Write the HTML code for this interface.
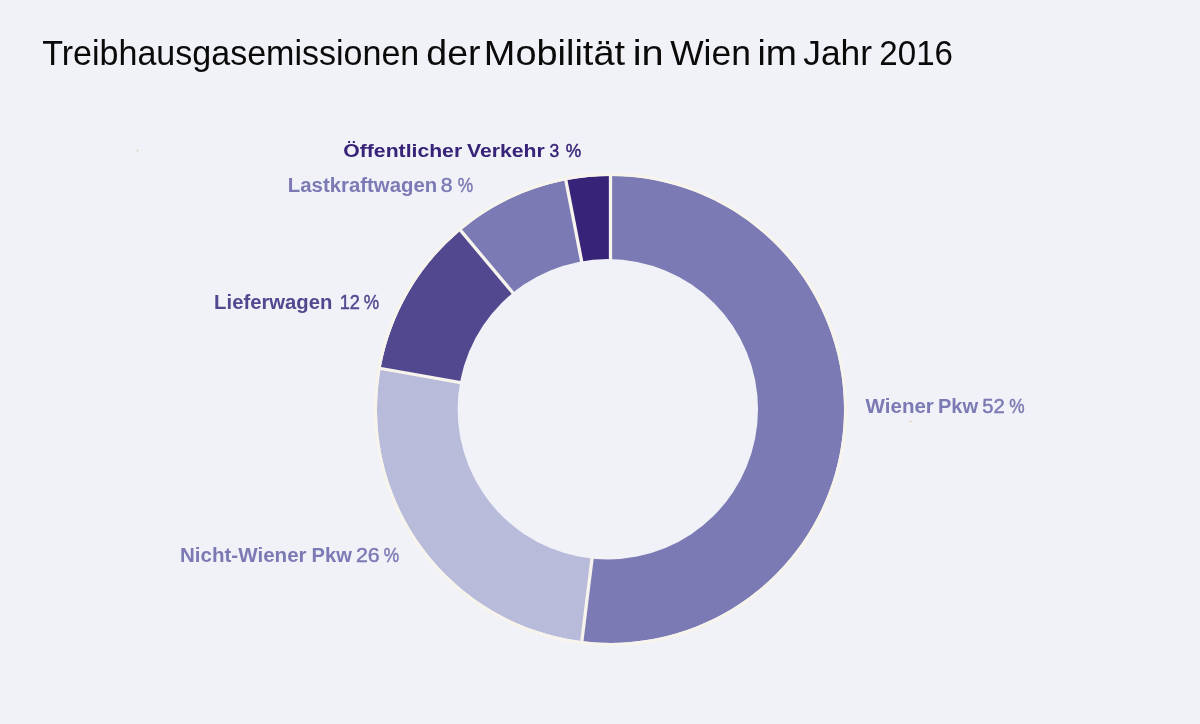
<!DOCTYPE html>
<html lang="de"><head><meta charset="utf-8"><title>Treibhausgasemissionen der Mobilität in Wien im Jahr 2016</title>
<style>
html,body{margin:0;padding:0;background:#f1f2f8;}
body{width:1200px;height:724px;overflow:hidden;}
svg{display:block}
text{font-family:"Liberation Sans", sans-serif;}
</style></head><body>
<svg width="1200" height="724" viewBox="0 0 1200 724" role="img" aria-label="Treibhausgasemissionen der Mobilität in Wien im Jahr 2016">
<rect width="1200" height="724" fill="#f1f2f8"/>
<path d="M610.50 175.90A233.5 233.5 0 1 1 581.84 641.13L592.80 552.51A144.2 144.2 0 1 0 610.50 265.20Z" fill="#7b7ab4"/>
<path d="M581.84 641.13A233.5 233.5 0 0 1 380.62 368.45L468.53 384.11A144.2 144.2 0 0 0 592.80 552.51Z" fill="#b9bbdb"/>
<path d="M380.62 368.45A233.5 233.5 0 0 1 460.57 230.40L517.91 298.86A144.2 144.2 0 0 0 468.53 384.11Z" fill="#514890"/>
<path d="M460.57 230.40A233.5 233.5 0 0 1 565.83 180.21L582.91 267.86A144.2 144.2 0 0 0 517.91 298.86Z" fill="#7b7ab4"/>
<path d="M565.83 180.21A233.5 233.5 0 0 1 610.50 175.90L610.50 265.20A144.2 144.2 0 0 0 582.91 267.86Z" fill="#372377"/>
<line x1="610.50" y1="264.20" x2="610.50" y2="173.30" stroke="#f6f4ec" stroke-width="3.3"/>
<line x1="592.68" y1="553.50" x2="581.52" y2="643.71" stroke="#f6f4ec" stroke-width="3.3"/>
<line x1="467.55" y1="383.94" x2="378.06" y2="368.00" stroke="#f6f4ec" stroke-width="3.3"/>
<line x1="517.26" y1="298.09" x2="458.90" y2="228.40" stroke="#f6f4ec" stroke-width="3.3"/>
<line x1="582.72" y1="266.88" x2="565.33" y2="177.66" stroke="#f6f4ec" stroke-width="3.3"/>
<circle cx="610.5" cy="409.4" r="235.05" fill="none" stroke="#f6f4ec" stroke-width="3.1"/>
<circle cx="607.8" cy="409.25" r="150.2" fill="#f1f2f8"/>

<circle cx="137.6" cy="150.6" r="1.2" fill="#d8d4c4" opacity="0.8"/>
<rect x="909.2" y="421" width="2.8" height="1" fill="#e8c890" opacity="0.7"/>
<text y="64.50" font-size="35" fill="#0a0a0a"><tspan x="42.24" textLength="377.07" lengthAdjust="spacingAndGlyphs">Treibhausgasemissionen</tspan> <tspan x="426.38" textLength="54.17" lengthAdjust="spacingAndGlyphs">der</tspan> <tspan x="483.89" textLength="141.11" lengthAdjust="spacingAndGlyphs">Mobilität</tspan> <tspan x="632.72" textLength="30.92" lengthAdjust="spacingAndGlyphs">in</tspan> <tspan x="670.17" textLength="80.67" lengthAdjust="spacingAndGlyphs">Wien</tspan> <tspan x="757.48" textLength="39.44" lengthAdjust="spacingAndGlyphs">im</tspan> <tspan x="803.20" textLength="68.83" lengthAdjust="spacingAndGlyphs">Jahr</tspan> <tspan x="879.33" textLength="73.71" lengthAdjust="spacingAndGlyphs">2016</tspan></text>
<text y="156.60" font-size="18" fill="#372377"><tspan x="343.30" textLength="118.85" lengthAdjust="spacingAndGlyphs" font-weight="700">Öffentlicher</tspan> <tspan x="466.92" textLength="77.89" lengthAdjust="spacingAndGlyphs" font-weight="700">Verkehr</tspan> <tspan x="549.40" textLength="9.71" lengthAdjust="spacingAndGlyphs" stroke="#372377" stroke-width="0.45">3</tspan> <tspan x="565.63" textLength="15.46" lengthAdjust="spacingAndGlyphs" stroke="#372377" stroke-width="0.45">%</tspan></text>
<text y="192.20" font-size="19.5" fill="#7b7ab4"><tspan x="287.83" textLength="149.33" lengthAdjust="spacingAndGlyphs" font-weight="700">Lastkraftwagen</tspan> <tspan x="440.82" textLength="11.75" lengthAdjust="spacingAndGlyphs" stroke="#7b7ab4" stroke-width="0.45">8</tspan> <tspan x="457.64" textLength="15.36" lengthAdjust="spacingAndGlyphs" stroke="#7b7ab4" stroke-width="0.45">%</tspan></text>
<text y="309.40" font-size="19.5" fill="#514890"><tspan x="214.13" textLength="118.27" lengthAdjust="spacingAndGlyphs" font-weight="700">Lieferwagen</tspan> <tspan x="339.64" textLength="20.19" lengthAdjust="spacingAndGlyphs" stroke="#514890" stroke-width="0.45">12</tspan> <tspan x="363.64" textLength="15.36" lengthAdjust="spacingAndGlyphs" stroke="#514890" stroke-width="0.45">%</tspan></text>
<text y="562.30" font-size="19.5" fill="#7b7ab4"><tspan x="179.91" textLength="126.72" lengthAdjust="spacingAndGlyphs" font-weight="700">Nicht-Wiener</tspan> <tspan x="311.64" textLength="40.29" lengthAdjust="spacingAndGlyphs" font-weight="700">Pkw</tspan> <tspan x="355.98" textLength="23.80" lengthAdjust="spacingAndGlyphs" stroke="#7b7ab4" stroke-width="0.45">26</tspan> <tspan x="383.64" textLength="15.36" lengthAdjust="spacingAndGlyphs" stroke="#7b7ab4" stroke-width="0.45">%</tspan></text>
<text y="413.40" font-size="19.5" fill="#7b7ab4"><tspan x="865.63" textLength="68.19" lengthAdjust="spacingAndGlyphs" font-weight="700">Wiener</tspan> <tspan x="937.94" textLength="40.29" lengthAdjust="spacingAndGlyphs" font-weight="700">Pkw</tspan> <tspan x="982.23" textLength="22.49" lengthAdjust="spacingAndGlyphs" stroke="#7b7ab4" stroke-width="0.45">52</tspan> <tspan x="1009.14" textLength="15.36" lengthAdjust="spacingAndGlyphs" stroke="#7b7ab4" stroke-width="0.45">%</tspan></text>

</svg>
</body></html>
